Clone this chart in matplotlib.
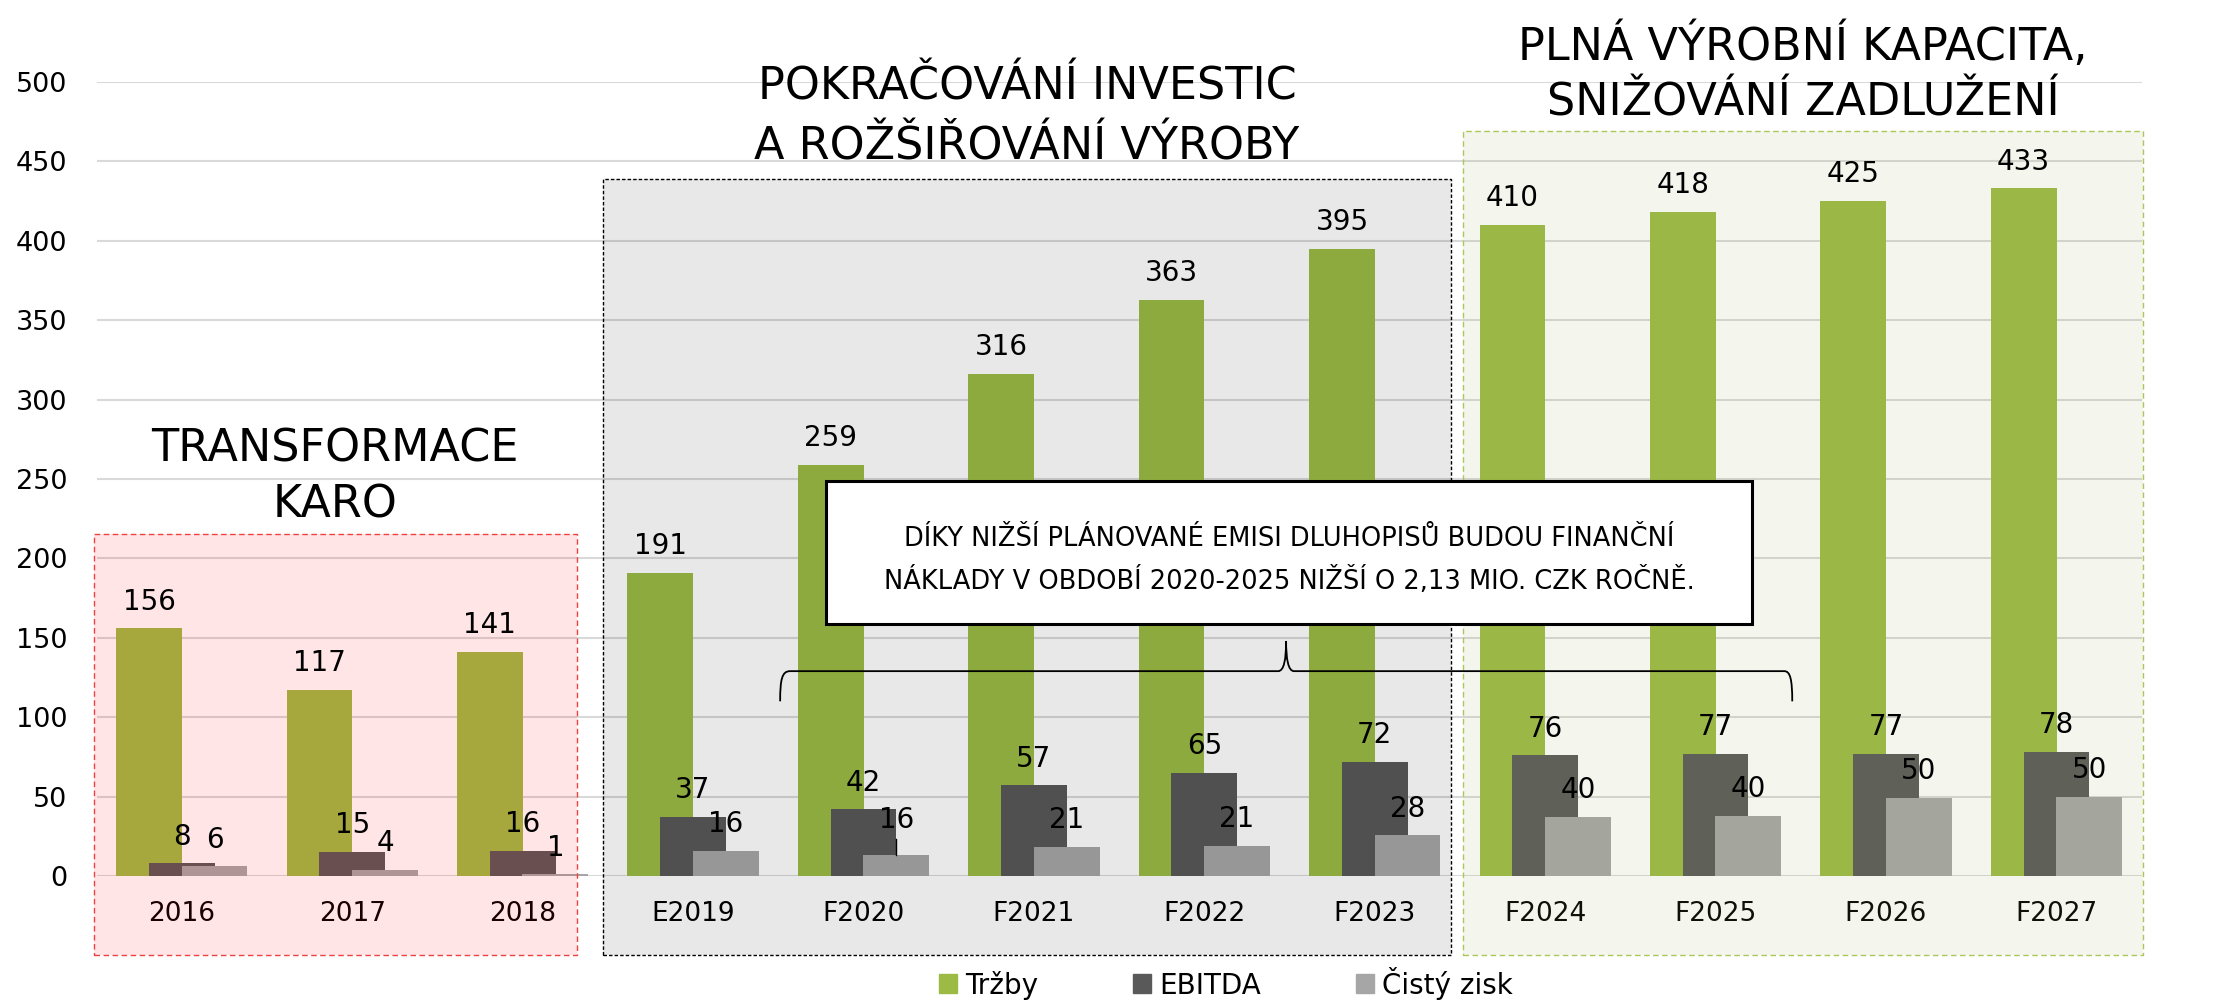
import matplotlib.pyplot as plt
from matplotlib.patches import Rectangle, Patch, PathPatch
from matplotlib.path import Path
import numpy as np

years = ["2016", "2017", "2018", "E2019", "F2020", "F2021", "F2022", "F2023",
         "F2024", "F2025", "F2026", "F2027"]
trzby = [156, 117, 141, 191, 259, 316, 363, 395, 410, 418, 425, 433]
ebitda = [8, 15, 16, 37, 42, 57, 65, 72, 76, 77, 77, 78]
# bar heights as drawn vs. printed labels (they differ slightly in the source)
zisk = [6, 4, 1, 16, 13.3, 18.4, 19, 25.6, 37.4, 37.7, 49, 49.8]
zisk_labels = [6, 4, 1, 16, 16, 21, 21, 28, 40, 40, 50, 50]

GREEN = "#9cbb45"
DARK = "#595959"
LIGHT = "#a6a6a6"

W, H = 2226, 1002
fig = plt.figure(figsize=(W / 100, H / 100), dpi=100)
plt.rcParams['font.family'] = ['DejaVu Sans']


def fx(px):
    return px / W


def fy(py):
    return 1 - py / H


ax = fig.add_axes([fx(96.6), fy(876), (2141.6 - 96.6) / W, (876 - 82) / H])
ax.set_xlim(-0.5, 11.5)
ax.set_ylim(0, 500)

x = np.arange(len(years))
bw = 0.386
off = 0.192
ax.bar(x - off, trzby, bw, color=GREEN, zorder=2)
ax.bar(x, ebitda, bw, color=DARK, zorder=2.1)
ax.bar(x + off, zisk, bw, color=LIGHT, zorder=2.2)

for i in range(len(years)):
    for dx, h, lab in [(-off, trzby[i], trzby[i]), (0, ebitda[i], ebitda[i]),
                       (off, zisk[i], zisk_labels[i])]:
        dy = 13.5
        if lab == zisk_labels[i] and dx == off and i == 4:
            dy = 19  # label moved up with a leader line
            ax.plot([x[i] + dx, x[i] + dx], [h, h + 10], color='black',
                    lw=1, zorder=6)
        ax.annotate(str(lab), (x[i] + dx, h), xytext=(0, dy),
                    textcoords='offset points', ha='center', va='baseline',
                    fontsize=20, zorder=6, annotation_clip=False)

# shaded phases
phases = [
    (-0.515, 2.319, 215.2, (1.0, 0.0, 0.0, 0.10), "#f04040", (0, (4, 2.5))),
    (2.472, 7.448, 438.8, (0.0, 0.0, 0.0, 0.09), "#000000", (0, (2.5, 1.5))),
    (7.52, 11.51, 469.0, (155/255, 165/255, 85/255, 0.10), "#aac85a", (0, (4, 2.5))),
]
for x0, x1, top, fc, ec, ls in phases:
    ax.add_patch(Rectangle((x0, -50), x1 - x0, top + 50, facecolor=fc,
                           edgecolor='none', clip_on=False, zorder=3))
    ax.add_patch(Rectangle((x0, -50), x1 - x0, top + 50, fill=False,
                           edgecolor=ec, linestyle=ls, lw=1.0, clip_on=False,
                           zorder=3.5))

# brace
verts = [(3.511, 110), (3.511, 123.9), (3.522, 129), (3.569, 129),
         (6.433, 129),
         (6.468, 129), (6.480, 136.6), (6.480, 148),
         (6.480, 136.6), (6.492, 129), (6.527, 129),
         (9.403, 129),
         (9.438, 129), (9.450, 123.9), (9.450, 110)]
codes = [Path.MOVETO, Path.CURVE4, Path.CURVE4, Path.CURVE4,
         Path.LINETO,
         Path.CURVE4, Path.CURVE4, Path.CURVE4,
         Path.CURVE4, Path.CURVE4, Path.CURVE4,
         Path.LINETO,
         Path.CURVE4, Path.CURVE4, Path.CURVE4]
ax.add_patch(PathPatch(Path(verts, codes), fill=False, lw=1.3,
                       edgecolor='black', zorder=4, clip_on=False))

# note box
ax.add_patch(Rectangle((3.780, 158.7), 5.435, 89.8, facecolor='white',
                       edgecolor='black', lw=2.2, zorder=5, clip_on=False))
fig.text(fx(1289), fy(546), "DÍKY NIŽŠÍ PLÁNOVANÉ EMISI DLUHOPISŮ BUDOU FINANČNÍ",
         ha='center', va='baseline', fontsize=18.5, zorder=7)
fig.text(fx(1289), fy(589), "NÁKLADY V OBDOBÍ 2020-2025 NIŽŠÍ O 2,13 MIO. CZK ROČNĚ.",
         ha='center', va='baseline', fontsize=18.5, zorder=7)

# phase titles
titles = [(335, 462, "TRANSFORMACE"), (335, 518, "KARO"),
          (1027, 99, "POKRAČOVÁNÍ INVESTIC"), (1027, 159, "A ROŽŠIŘOVÁNÍ VÝROBY"),
          (1803, 60, "PLNÁ VÝROBNÍ KAPACITA,"), (1803, 116, "SNIŽOVÁNÍ ZADLUŽENÍ")]
for tx, ty, t in titles:
    fig.text(fx(tx), fy(ty), t, ha='center', va='baseline', fontsize=32, zorder=7)

ax.set_yticks(range(0, 501, 50))
ax.set_xticks(x, years)
ax.tick_params(axis='y', length=0, pad=21, labelsize=19.5)
ax.tick_params(axis='x', length=0, pad=18, labelsize=19)
ax.yaxis.grid(True, color='#d9d9d9', lw=1.5)
ax.set_axisbelow(True)
for s in ax.spines.values():
    s.set_visible(False)

handles = [Patch(color=GREEN, label="Tržby"), Patch(color=DARK, label="EBITDA"),
           Patch(color=LIGHT, label="Čistý zisk")]
fig.legend(handles=handles, loc='center', bbox_to_anchor=(fx(1226), fy(983)),
           ncol=3, frameon=False, fontsize=20, handlelength=0.65,
           handleheight=0.65, handletextpad=0.3, columnspacing=3.4)

fig.savefig("out.png", dpi=100)
